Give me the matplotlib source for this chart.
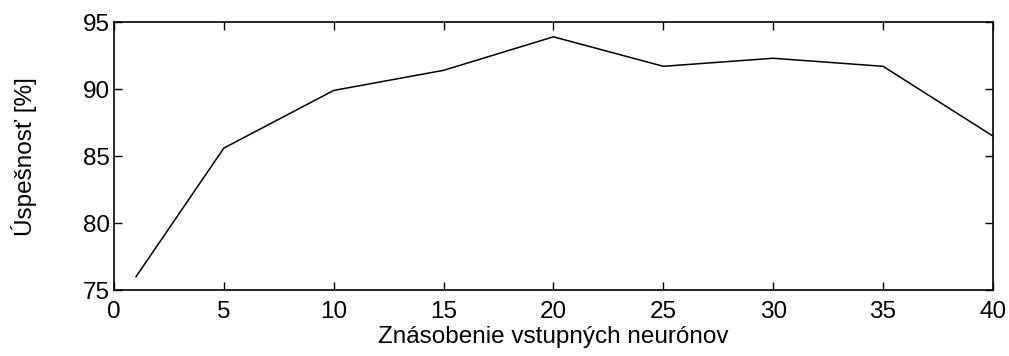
import matplotlib
matplotlib.use("Agg")
import matplotlib.pyplot as plt

plt.rcParams['font.family'] = ['Liberation Sans', 'DejaVu Sans']

# data
multiples = [1, 5, 10, 15, 20, 25, 30, 35, 40]
success = [76.0, 85.6, 89.9, 91.4, 93.9, 91.7, 92.3, 91.7, 86.5]

x_ticks = [0, 5, 10, 15, 20, 25, 30, 35, 40]
y_ticks = [75, 80, 85, 90, 95]


def main():
    fig = plt.figure(figsize=(10.09, 3.56), dpi=100)
    ax = fig.add_axes([0.113, 0.185, 0.871, 0.753])

    ax.plot(multiples, success, color="black", linewidth=1.1)

    ax.set_xlim(0, 40)
    ax.set_ylim(75, 95)
    ax.set_xticks(x_ticks)
    ax.set_yticks(y_ticks)
    ax.tick_params(direction="in", top=True, right=True, labelsize=17.5,
                   length=5.8, width=1)
    ax.tick_params(axis="x", pad=8)
    ax.tick_params(axis="y", pad=3)
    for sp in ax.spines.values():
        sp.set_linewidth(1.2)

    ax.set_xlabel("Znásobenie vstupných neurónov", fontsize=17.5, labelpad=2)
    ax.set_ylabel("Úspešnosť [%]", fontsize=17.5)
    ax.yaxis.set_label_coords(-0.088, 0.5)

    fig.savefig("out.png", dpi=100)


if __name__ == "__main__":
    main()
